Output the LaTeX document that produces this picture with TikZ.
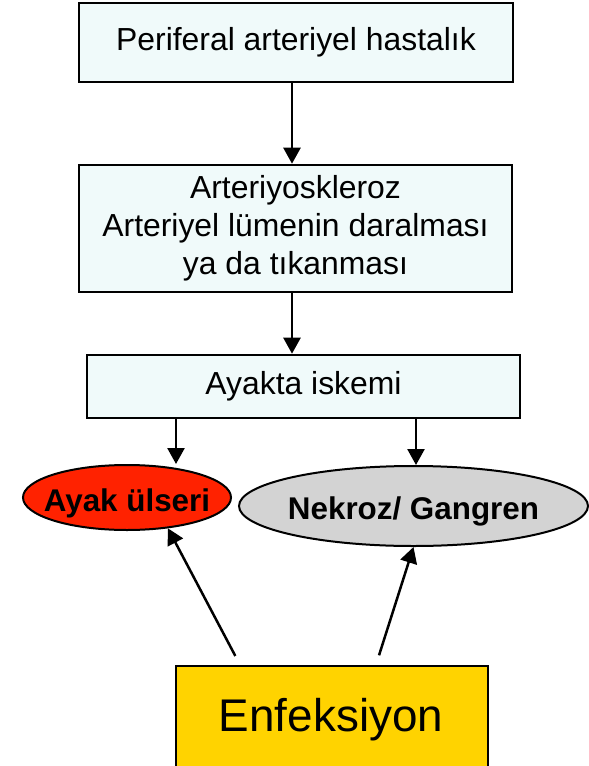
\documentclass[tikz,border=0pt]{standalone}
\usepackage{fontspec}
\setmainfont{Liberation Sans}
\usetikzlibrary{arrows.meta,shapes.geometric}

\definecolor{boxfill}{RGB}{240,250,250}
\definecolor{ulcerred}{RGB}{255,34,0}
\definecolor{necrogrey}{RGB}{211,211,211}
\definecolor{infgold}{RGB}{255,211,0}

\tikzset{
  flowbox/.style={draw, line width=2.6bp, fill=boxfill, inner sep=0pt, align=center,
    font=\fontsize{32}{38}\selectfont},
  oval/.style={ellipse, draw, line width=2bp, inner sep=0pt,
    font=\bfseries\fontsize{31.5}{36}\selectfont},
  link/.style={line width=2.5bp, -{Triangle[length=16bp,width=17bp]}},
}
% zero-size label (baseline set below the centre) so the ellipse size
% comes from minimum width/height alone
\newcommand{\ovaltext}[1]{\raisebox{-13.5bp}[0pt][0pt]{\makebox[0pt]{#1}}}

\begin{document}
\begin{tikzpicture}[x=1bp,y=-1bp]
  \useasboundingbox (0,0) rectangle (589,766);
  \clip (0,0) rectangle (589,766);

  % boxes of the main chain
  \node[flowbox, minimum width=434bp, minimum height=79bp] (pad) at (296,42.5)
    {Periferal arteriyel hastalık};
  \node[flowbox, minimum width=433bp, minimum height=127bp] (ath) at (295.5,228.5)
    {Arteriyoskleroz\\Arteriyel lümenin daralması\\ya da tıkanması};
  \node[flowbox, minimum width=433bp, minimum height=63bp] (isch) at (303.5,386.5)
    {Ayakta iskemi};

  % outcomes
  \node[oval, fill=ulcerred, minimum width=208bp, minimum height=65bp] (ulcer) at (127,497.5)
    {\ovaltext{Ayak ülseri}};
  \node[oval, fill=necrogrey, minimum width=349bp, minimum height=80bp] (necro) at (413.5,506)
    {\ovaltext{Nekroz/ Gangren}};

  % infection box (runs past the lower edge)
  \node[draw, line width=2.4bp, fill=infgold, inner sep=0pt,
        minimum width=312bp, minimum height=130bp] (inf) at (332,731) {};
  \node (inftext) at (331,720) {\fontsize{46}{52}\selectfont Enfeksiyon};

  % x positions of the vertical connectors
  \coordinate (mid) at (292,0);
  \coordinate (lx) at (176,0);
  \coordinate (rx) at (416,0);
  \coordinate (il) at (240,0);
  \coordinate (ir) at (376,0);

  \draw[link] (pad.south -| mid) -- (ath.north -| mid);
  \draw[link] (ath.south -| mid) -- (isch.north -| mid);
  \draw[link] (isch.south -| lx) -- (ulcer.north -| lx);
  \draw[link] (isch.south -| rx) -- (necro.north -| rx);

  \draw[link, shorten <=10bp] (inf.north -| il) -- (ulcer.-37);
  \draw[link, shorten <=10bp] (inf.north -| ir) -- (necro.south);
\end{tikzpicture}
\end{document}
